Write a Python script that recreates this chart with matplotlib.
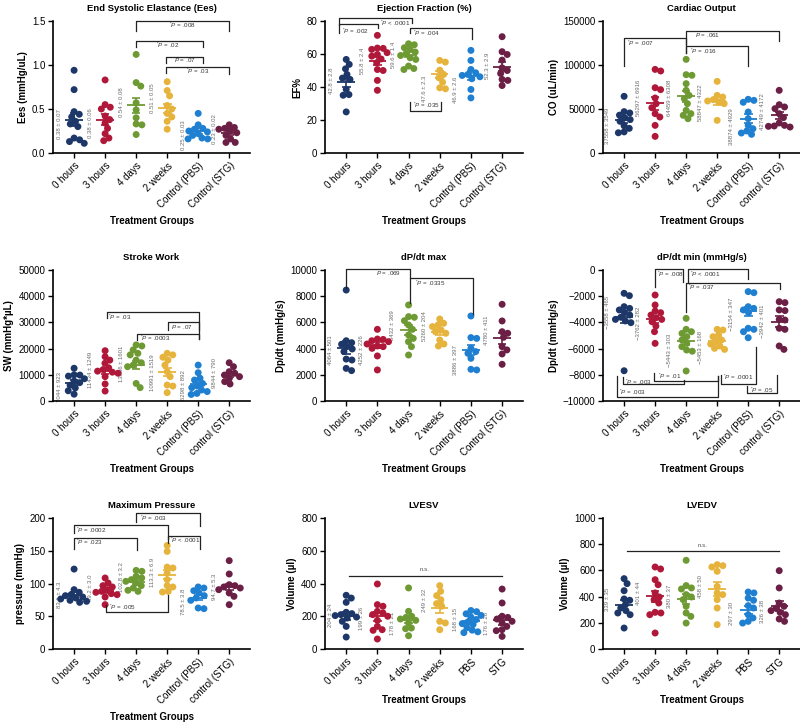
import numpy as np
import matplotlib
matplotlib.use("Agg")
import matplotlib.pyplot as plt

plt.rcParams['font.family'] = ['Liberation Sans', 'DejaVu Sans']
plt.rcParams['mathtext.fontset'] = 'custom'
plt.rcParams['mathtext.rm'] = 'Liberation Sans'
plt.rcParams['mathtext.it'] = 'Liberation Sans:italic'

COLORS = ['#1c3768', '#b0183a', '#6e9a34', '#e6b43c', '#1f7fd0', '#6b1f45']

groups_a = ['0 hours', '3 hours', '4 days', '2 weeks', 'Control (PBS)', 'Control (STG)']
groups_b = ['0 hours', '3 hours', '4 days', '2 weeks', 'Control (PBS)', 'control (STG)']
groups_c = ['0 hours', '3 hours', '4 days', '2 weeks', 'PBS', 'STG']

# ---- data ----
ees_vals = [
    [0.94, 0.72, 0.47, 0.44, 0.41, 0.36, 0.33, 0.30, 0.17, 0.15, 0.13, 0.11],
    [0.83, 0.55, 0.52, 0.50, 0.42, 0.38, 0.34, 0.28, 0.22, 0.17, 0.14],
    [1.12, 0.80, 0.76, 0.57, 0.49, 0.40, 0.33, 0.32, 0.21],
    [0.81, 0.71, 0.65, 0.54, 0.50, 0.45, 0.41, 0.36, 0.27],
    [0.45, 0.32, 0.28, 0.27, 0.25, 0.24, 0.22, 0.20, 0.17, 0.16, 0.16],
    [0.32, 0.29, 0.28, 0.27, 0.25, 0.23, 0.20, 0.16, 0.12, 0.12],
]
ees_mean = [0.38, 0.38, 0.54, 0.51, 0.25, 0.23]
ees_sem = [0.07, 0.06, 0.08, 0.05, 0.03, 0.02]

ef_vals = [
    [56.7, 53.7, 51.0, 47.6, 45.4, 44.6, 38.5, 35.4, 35.0, 24.9],
    [71.3, 63.6, 63.4, 62.8, 60.8, 59.7, 58.7, 57.0, 54.7, 50.6, 50.0, 44.0, 38.0],
    [66.2, 65.6, 63.8, 62.8, 61.2, 60.2, 59.1, 57.7, 56.7, 52.7, 51.2, 50.6],
    [56.1, 55.1, 50.2, 47.6, 45.6, 42.9, 39.5, 38.9],
    [62.2, 56.1, 50.6, 48.6, 47.6, 47.0, 46.2, 45.0, 38.5, 33.4],
    [70.5, 61.4, 59.7, 56.3, 51.6, 50.0, 48.2, 44.6, 44.0, 40.9],
]
ef_mean = [42.8, 55.8, 59.6, 47.6, 46.9, 52.3]
ef_sem = [2.8, 2.4, 1.4, 2.3, 2.6, 2.9]

co_vals = [
    [64400, 47000, 45500, 43000, 40000, 38000, 36000, 31000, 28000, 24000, 23000],
    [95000, 93200, 74200, 72000, 62500, 56000, 51500, 44700, 40900, 31400, 18900],
    [106400, 89000, 88300, 78800, 71200, 65500, 61700, 56100, 48500, 44700, 42800, 39000],
    [81400, 65500, 63600, 60600, 59100, 58000, 56100, 37100],
    [61000, 59800, 57600, 46600, 39000, 31400, 27600, 25000, 22700, 21200],
    [71200, 54900, 52300, 50400, 44700, 40200, 34100, 31400, 30700, 30300, 29500],
]
co_mean = [37558, 56297, 64459, 58847, 38874, 42749]
co_sem = [3549, 6916, 6308, 4322, 4929, 4172]

sw_vals = [
    [12500, 10000, 9900, 9500, 8500, 7600, 7000, 6000, 5000, 3900, 2600],
    [19200, 16900, 15600, 14400, 12700, 12000, 11400, 11000, 10600, 9300, 6500, 3800],
    [21400, 21000, 19500, 18200, 17600, 15600, 14600, 13700, 13100, 6700, 5100],
    [18200, 17600, 16700, 15600, 13700, 11200, 9300, 6100, 5700, 3200],
    [13700, 10800, 8700, 8000, 6700, 5700, 5100, 4200, 3600, 2900, 2500],
    [14600, 13100, 11200, 10600, 9900, 9300, 8700, 7400, 6500],
]
sw_mean = [7044, 11434, 13856, 10991, 6298, 9844]
sw_sem = [923, 1249, 1601, 1519, 892, 790]

dpmax_vals = [
    [8470, 4600, 4450, 4330, 4150, 3970, 3770, 3200, 3130, 2490, 2320],
    [5470, 4730, 4700, 4600, 4530, 4350, 4200, 4150, 4020, 3440, 2370],
    [7330, 6440, 6390, 6130, 5800, 5470, 5040, 4780, 4530, 4150, 3510],
    [6260, 5930, 5800, 5680, 5420, 5290, 5170, 4660, 4350, 4200],
    [6490, 4840, 4780, 4020, 3770, 3640, 3260, 2420, 2370],
    [7380, 6110, 5290, 5170, 4860, 4150, 3900, 3590, 2800],
]
dpmax_mean = [4064, 4252, 5432, 5260, 3886, 4780]
dpmax_sem = [501, 226, 369, 204, 397, 411]

dpmin_vals = [
    [-1780, -1960, -2800, -2930, -3050, -3260, -3440, -3610, -3770, -3890, -4020, -7690],
    [-1910, -2670, -3130, -3260, -3440, -3640, -3770, -3950, -4280, -4710, -5600],
    [-3690, -4530, -4710, -4840, -5090, -5340, -5600, -5850, -6110, -6200, -7710],
    [-4530, -4580, -4960, -5090, -5340, -5470, -5650, -5800, -5980, -6060],
    [-1650, -1730, -2800, -2930, -3050, -3260, -4450, -4530, -4710, -5170],
    [-2420, -2490, -3050, -3100, -3770, -3820, -4450, -4530, -5800, -6060],
]
dpmin_mean = [-3558, -3762, -5443, -5453, -3154, -3942]
dpmin_sem = [465, 282, 303, 168, 347, 401]

pr_vals = [
    [122, 90.6, 86.5, 83, 81.4, 79.4, 77.9, 76.3, 74.3, 72.8, 71.2],
    [108.4, 100.8, 96.7, 94.7, 90.6, 88, 86.5, 84.5, 83, 79.4, 67.7],
    [120, 118.6, 111, 108.4, 105.9, 103.3, 100.8, 96.7, 93.1, 89.6, 88],
    [158, 149, 125, 123.7, 116, 105.9, 96.7, 94.7, 88, 87],
    [94.7, 93.1, 89, 85.5, 81.4, 77.9, 74.3, 62.6, 61.6],
    [134.9, 114.5, 98.2, 96.7, 94.7, 93.1, 90.6, 85.5, 80.4, 67.7],
]
pr_mean = [83.1, 89.2, 102.8, 113.3, 78.5, 94.7]
pr_sem = [4.3, 3.0, 3.2, 6.9, 3.8, 5.3]

esv_vals = [
    [328, 311, 285, 224, 216, 210, 204, 195, 189, 169, 138, 73],
    [397, 271, 261, 230, 220, 210, 200, 175, 138, 118, 114, 61],
    [373, 230, 200, 193, 183, 175, 159, 128, 124, 81],
    [387, 352, 326, 301, 277, 261, 169, 159, 118],
    [235, 228, 215, 205, 195, 180, 165, 155, 150, 130, 115, 105, 100],
    [366, 281, 200, 193, 183, 169, 159, 138, 118, 112, 77],
]
esv_mean = [204, 199, 178, 249, 168, 176]
esv_sem = [24, 26, 21, 32, 15, 28]

edv_vals = [
    [537, 499, 445, 382, 372, 339, 313, 293, 275, 262, 160],
    [626, 611, 529, 491, 428, 397, 377, 351, 280, 275, 262, 122],
    [677, 484, 466, 458, 415, 397, 377, 326, 275, 249, 198],
    [644, 636, 626, 593, 478, 428, 415, 377, 313, 186],
    [435, 428, 389, 372, 331, 313, 262, 237, 211, 198],
    [598, 466, 351, 326, 313, 293, 280, 262, 229, 211],
]
edv_mean = [339, 401, 380, 458, 297, 326]
edv_sem = [35, 44, 37, 50, 30, 38]

# ---- layout: brackets (x1, x2, y, y_left_end, y_right_end, text, text_x, text_y, ha) ----
ees_br = [
    (2, 5, 1.50, 1.39, 1.39, '*P = .008', 3.49, 1.45, 'center'),
    (2, 4.15, 1.272, 1.21, 1.21, '*P = .02', 3.03, 1.225, 'center'),
    (2.95, 4.15, 1.094, 1.025, 1.025, 'P = .07', 3.57, 1.056, 'center'),
    (2.95, 5, 0.98, 0.91, 0.896, '*P = .03', 3.99, 0.93, 'center'),
]
ef_br = [
    (-0.23, 2.1, 81.6, 77.6, 78.8, '*P < .0001', 2.05, 78.5, 'right'),
    (-0.23, 1.03, 78.0, 72.9, 75.9, '*P = .002', -0.13, 73.9, 'left'),
    (2.06, 4.03, 75.5, 72.7, 69.0, '*P = .004', 2.13, 72.7, 'left'),
    (2.06, 3.03, 25.6, 30.7, 30.7, '*P = .035', 2.13, 28.7, 'left'),
]
co_br = [
    (0, 2, 130700, 98900, 124200, '*P = .007', 0.09, 124200, 'left'),
    (2, 5, 138600, 114000, 127300, 'P = .061', 2.29, 133700, 'left'),
    (2, 3.99, 121600, 114000, 98500, '*P = .016', 2.11, 115900, 'left'),
]
sw_br = [
    (1.05, 4.04, 34090, 31550, 23530, '*P = .03', 1.1, 31930, 'left'),
    (3.02, 4.04, 30020, 27090, 27090, 'P = .07', 3.12, 28370, 'left'),
    (2.03, 4.04, 25570, 23280, 23530, '*P = .0003', 2.12, 23910, 'left'),
]
dpmax_br = [
    (0, 2.04, 10050, 8650, 9370, 'P = .069', 0.94, 9750, 'left'),
    (2.04, 4.07, 9370, 7460, 6640, '*P = .0335', 2.2, 8980, 'left'),
]
dpmin_br = [
    (1.0, 1.9, 53, -1275, -900, '*P = .008', 1.05, -330, 'left'),
    (2.06, 4.0, 53, -916, -665, '*P < .0001', 2.12, -305, 'left'),
    (1.99, 5.01, -970, -3180, -1430, '*P = .037', 2.05, -1300, 'left'),
    (-0.03, 1.94, -8703, -8145, -8397, '*P = .003', 0.03, -8570, 'left'),
    (0.97, 3.03, -8451, -7886, -8092, '*P = .01', 1.1, -8145, 'left'),
    (-0.22, 3.03, -9672, -8092, -8092, '*P = .003', -0.15, -9367, 'left'),
    (3.13, 4.26, -8703, -8016, -5855, '*P = .0001', 3.2, -8191, 'left'),
    (3.96, 4.92, -9413, -8855, -8016, '*P = .05', 4.06, -9161, 'left'),
]
pr_br = [
    (2.01, 4.07, 207.6, 193.4, 187.3, '*P = .003', 2.13, 200, 'left'),
    (0, 3.04, 188.8, 177.1, 167.9, '*P = .0002', 0.07, 180.7, 'left'),
    (0, 2.04, 169.5, 152.7, 151.7, '*P = .023', 0.07, 162.8, 'left'),
    (3.04, 4.07, 172, 161.8, 153.2, '*P < .0001', 3.09, 165.9, 'left'),
    (1.03, 3.04, 56, 67.7, 83, '*P = .005', 1.14, 63.6, 'left'),
]


def p_text(s):
    # star as superscript, P in italics
    star = s.startswith('*')
    body = s.lstrip('*')
    rest = body[1:]
    return (r'$^{*}$' if star else '') + r'$\mathit{P}$' + rest


def swarm(ax, vals, d=5.8):
    tr = ax.transData
    ys = tr.transform(np.column_stack([np.zeros(len(vals)), vals]))[:, 1]
    pxu = tr.transform([[1, 0]])[0, 0] - tr.transform([[0, 0]])[0, 0]
    placed = []
    offs = np.zeros(len(vals))
    for k in range(len(vals)):
        y = ys[k]
        cands = [0.0]
        for px, py in placed:
            dy = abs(py - y)
            if dy < d:
                dx = np.sqrt(d * d - dy * dy)
                cands += [px + dx, px - dx]
        cands.sort(key=abs)
        for c in cands:
            if all((c - px) ** 2 + (y - py) ** 2 >= d * d - 1e-6 for px, py in placed):
                offs[k] = c
                break
        placed.append((offs[k], y))
    return offs / pxu


def draw_panel(ax, title, ylabel, ylim, yticks, xlabels, vals, means, sems,
               fmt, label_y, label_dx, brackets=(), ns=None, yfmt=None):
    ax.set_xlim(-0.68, 5.67)
    ax.set_ylim(*ylim)
    ax.set_yticks(yticks)
    if yfmt:
        ax.set_yticklabels([yfmt.format(t) for t in yticks])
    ax.set_xticks(range(6))
    ax.set_xticklabels(xlabels, rotation=45, ha='right', rotation_mode='anchor')
    for sp in ['top', 'right']:
        ax.spines[sp].set_visible(False)
    for sp in ['left', 'bottom']:
        ax.spines[sp].set_linewidth(1.2)
    ax.tick_params(labelsize=7, width=1.0, length=3.5, pad=2)
    ax.set_title(title, fontsize=6.8, fontweight='bold', pad=7)
    ax.set_ylabel(ylabel, fontsize=7, fontweight='bold', labelpad=3)
    ax.set_xlabel('Treatment Groups', fontsize=7, fontweight='bold', labelpad=4)

    for i, v in enumerate(vals):
        off = swarm(ax, v)
        ax.scatter(i + off, v, s=25, color=COLORS[i], edgecolors='none', zorder=3)
        m, s = means[i], sems[i]
        ax.hlines(m, i - 0.28, i + 0.28, color=COLORS[i], lw=1.3, zorder=4)
        ax.vlines(i, m - s, m + s, color=COLORS[i], lw=1.2, zorder=4)
        ax.hlines([m - s, m + s], i - 0.14, i + 0.14, color=COLORS[i], lw=1.2, zorder=4)
        txt = (fmt.format(m) + ' \u00b1 ' + fmt.format(s)).replace('-', '\u2212')
        ax.text(i + label_dx, label_y[i], txt, rotation=90, ha='center', va='center',
                fontsize=4.3, color='#6b6b6b', zorder=2)

    for x1, x2, y, yl, yr, t, tx, ty, ha in brackets:
        ax.plot([x1, x1, x2, x2], [yl, y, y, yr], color='#222222', lw=0.9,
                clip_on=False, zorder=5)
        ax.text(tx, ty, p_text(t), ha=ha, va='center', fontsize=4.5, color='#333333')

    if ns:
        x1, x2, y, tx, ty = ns
        ax.plot([x1, x2], [y, y], color='#222222', lw=0.9)
        ax.text(tx, ty, 'n.s.', ha='center', va='center', fontsize=4.5, color='#555555')


fig = plt.figure(figsize=(8, 7.22), dpi=100)
W, H = 800.0, 722.0
cols = [(53, 250), (325, 523), (603, 800)]
rows = [(21, 153), (270, 401), (518, 649)]


def make_ax(r, c):
    x0, x1 = cols[c]
    yt, yb = rows[r]
    return fig.add_axes([x0 / W, 1 - yb / H, (x1 - x0) / W, (yb - yt) / H])


draw_panel(make_ax(0, 0), 'End Systolic Elastance (Ees)', 'Ees (mmHg/uL)', (0, 1.5),
           [0, 0.5, 1.0, 1.5], groups_a, ees_vals, ees_mean, ees_sem, '{:.2f}',
           [0.33, 0.34, 0.58, 0.62, 0.20, 0.27], -0.46, ees_br, yfmt='{:.1f}')
draw_panel(make_ax(0, 1), 'Ejection Fraction (%)', 'EF%', (0, 80),
           [0, 20, 40, 60, 80], groups_a, ef_vals, ef_mean, ef_sem, '{:.1f}',
           [44, 55.7, 59.7, 39.0, 38, 53], -0.48, ef_br)
draw_panel(make_ax(0, 2), 'Cardiac Output', 'CO (uL/min)', (0, 150000),
           [0, 50000, 100000, 150000], groups_b, co_vals, co_mean, co_sem, '{:.0f}',
           [31400, 62900, 62900, 57200, 30300, 46600], -0.53, co_br)
draw_panel(make_ax(1, 0), 'Stroke Work', 'SW (mmHg*\u00b5L)', (0, 50000),
           [0, 10000, 20000, 30000, 40000, 50000], groups_b, sw_vals, sw_mean, sw_sem, '{:.0f}',
           [5470, 11830, 14370, 10810, 6100, 10560], -0.47, sw_br)
draw_panel(make_ax(1, 1), 'dP/dt max', 'Dp/dt (mmHg/s)', (0, 10000),
           [0, 2000, 4000, 6000, 8000, 10000], groups_a, dpmax_vals, dpmax_mean, dpmax_sem, '{:.0f}',
           [3890, 3890, 5800, 5730, 3130, 5420], -0.5, dpmax_br)
draw_panel(make_ax(1, 2), 'dP/dt min (mmHg/s)', 'Dp/dt (mmHg/s)', (-10000, 0),
           [0, -2000, -4000, -6000, -8000, -10000], groups_b, dpmin_vals, dpmin_mean, dpmin_sem, '{:.0f}',
           [-3260, -4070, -6110, -5900, -3360, -3950], -0.53, dpmin_br)
draw_panel(make_ax(2, 0), 'Maximum Pressure', 'pressure (mmHg)', (0, 200),
           [0, 50, 100, 150, 200], groups_b, pr_vals, pr_mean, pr_sem, '{:.1f}',
           [83, 93, 110, 117, 72.8, 95.7], -0.47, pr_br)
draw_panel(make_ax(2, 1), 'LVESV', 'Volume (\u00b5l)', (0, 800),
           [0, 200, 400, 600, 800], groups_c, esv_vals, esv_mean, esv_sem, '{:.0f}',
           [204, 189, 159, 297, 179, 159], -0.5, ns=(0.08, 5.0, 444, 2.5, 485))
draw_panel(make_ax(2, 2), 'LVEDV', 'Volume (\u00b5l)', (0, 1000),
           [0, 200, 400, 600, 800, 1000], groups_c, edv_vals, edv_mean, edv_sem, '{:.0f}',
           [377, 428, 402, 478, 275, 288], -0.53, ns=(0.09, 5.0, 746, 2.54, 791))

fig.savefig('out.png', dpi=100)
